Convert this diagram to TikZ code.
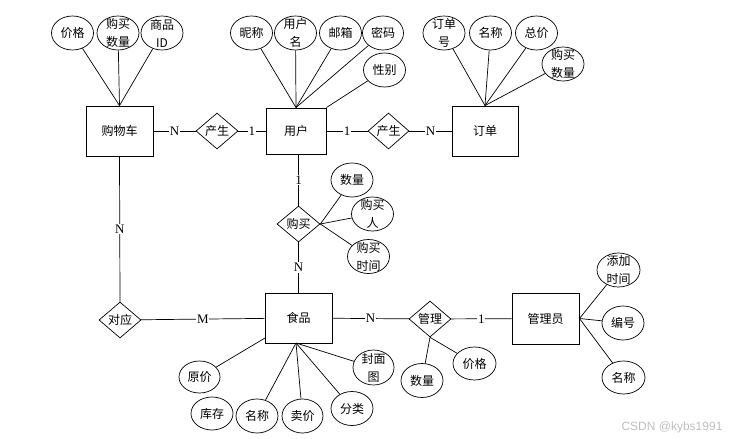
\documentclass[tikz,border=0pt]{standalone}
\usepackage{fontspec}
\setmainfont{Liberation Serif}
\newfontfamily\cjk{Noto Sans CJK SC}
\newfontfamily\wmfont{Liberation Sans}
\usetikzlibrary{shapes.geometric}
\begin{document}
\begin{tikzpicture}[x=1pt,y=-1pt,
 ent/.style={draw,line width=0.9pt,minimum width=67pt,minimum height=50pt,inner sep=0pt,font=\cjk\fontsize{12}{14}\selectfont},
 attr/.style={draw,ellipse,line width=0.7pt,minimum width=42pt,minimum height=34pt,inner sep=0pt,font=\cjk\fontsize{12}{14}\selectfont},
 lab/.style={align=center,inner sep=0pt,font=\cjk\fontsize{12}{18}\selectfont},
 rel/.style={draw,diamond,line width=0.7pt,minimum width=42pt,minimum height=36pt,inner sep=0pt,aspect=1.15,font=\cjk\fontsize{12}{14}\selectfont},
 card/.style={fill=white,inner sep=0.8pt,font=\fontsize{13}{13}\selectfont},
 ln/.style={line width=0.7pt}
]
\useasboundingbox (0,0) rectangle (739,439);

% entities
\node[ent] (cart) at (119.5,131) {购物车};
\node[ent,minimum width=60pt,minimum height=46pt] (user) at (296,131) {用户};
\node[ent,minimum width=66pt] (order) at (485,131) {订单};
\node[ent] (food) at (298.5,318) {食品};
\node[ent,minimum height=51pt] (admin) at (545.5,318.5) {管理员};

% relations
\node[rel] (r1) at (217,131) {产生};
\node[rel,minimum width=41pt] (r2) at (388.5,131) {产生};
\node[rel,minimum width=43pt] (r3) at (298.5,224) {购买};
\node[rel] (r4) at (120,320) {对应};
\node[rel] (r5) at (430,319) {管理};

% cardinality connectors
\draw[ln] (cart) -- node[card]{N} (r1);
\draw[ln] (r1) -- node[card]{1} (user);
\draw[ln] (user) -- node[card]{1} (r2);
\draw[ln] (r2) -- node[card]{N} (order);
\draw[ln] (user.south -| r3.north) -- node[card]{1} (r3);
\draw[ln] (r3) -- node[card]{N} (food.north -| r3.south);
\draw[ln] (cart.south) -- node[card]{N} (r4.north);
\draw[ln] (r4) -- node[card]{M} (food);
\draw[ln] (food) -- node[card]{N} (r5);
\draw[ln] (r5) -- node[card]{1} (admin);

% cart attributes
\node[attr] (c1) at (72.5,33) {价格};
\node[attr,label={[lab]center:购买\\数量}] (c2) at (118,33) {};
\node[attr,label={[lab]center:商品\\ID}] (c3) at (162,33) {};
\foreach \a in {c1,c2,c3} \draw[ln] (\a) -- (cart.north);

% user attributes
\node[attr] (u1) at (251.5,33) {昵称};
\node[attr,label={[lab]center:用户\\名}] (u2) at (295.5,33) {};
\node[attr] (u3) at (340.5,33) {邮箱};
\node[attr,minimum width=41pt] (u4) at (383,33) {密码};
\node[attr] (u5) at (384.5,70) {性别};
\foreach \a in {u1,u2,u3,u4} \draw[ln] (\a) -- (user.north);
\draw[ln] (u5) -- (user.north east);

% order attributes
\node[attr,label={[lab]center:订单\\号}] (o1) at (444,33) {};
\node[attr] (o2) at (490.5,33) {名称};
\node[attr] (o3) at (536.5,33) {总价};
\node[attr,label={[lab]center:购买\\数量}] (o4) at (563,64) {};
\foreach \a in {o1,o2,o3,o4} \draw[ln] (\a) -- (order.north);

% purchase attributes
\node[attr] (p1) at (352,180) {数量};
\node[attr,label={[lab]center:购买\\人}] (p2) at (372.5,214) {};
\node[attr,label={[lab]center:购买\\时间}] (p3) at (368.5,256.5) {};
\foreach \a in {p1,p2,p3} \draw[ln] (\a) -- (r3.east);

% food attributes
\coordinate (fsw) at (265,338);
\coordinate (fb) at (296,343);
\node[attr,minimum width=41pt,minimum height=32pt] (f1) at (199.5,377) {原价};
\node[attr,minimum height=33pt] (f2) at (212,413.5) {库存};
\node[attr] (f3) at (257,416) {名称};
\node[attr,minimum width=41pt] (f4) at (302.5,416) {卖价};
\node[attr] (f5) at (352,408.5) {分类};
\node[attr,minimum width=41pt,minimum height=35pt,label={[lab]center:封面\\图}] (f6) at (373.5,367.5) {};
\draw[ln] (f1) -- (fsw);
\foreach \a in {f3,f4,f5,f6} \draw[ln] (\a) -- (fb);

% manage attributes
\node[attr] (m1) at (422,380.5) {数量};
\node[attr,minimum width=43pt,minimum height=33pt] (m2) at (474.5,363.5) {价格};
\draw[ln] (r5.south) -- (m1);
\draw[ln] (r5.south) -- (m2);

% admin attributes
\node[attr,minimum width=43pt,label={[lab]center:添加\\时间}] (d1) at (618.5,270) {};
\node[attr] (d2) at (623,323) {编号};
\node[attr,minimum width=43pt,minimum height=33pt] (d3) at (623.5,377.5) {名称};
\foreach \a in {d1,d2,d3} \draw[ln] (\a) -- (admin.east);

% watermark
\node[text=black!25,font=\wmfont\fontsize{12}{12}\selectfont,inner sep=0pt] (wm) at (672,427) {CSDN @kybs1991};
\end{tikzpicture}
\end{document}
